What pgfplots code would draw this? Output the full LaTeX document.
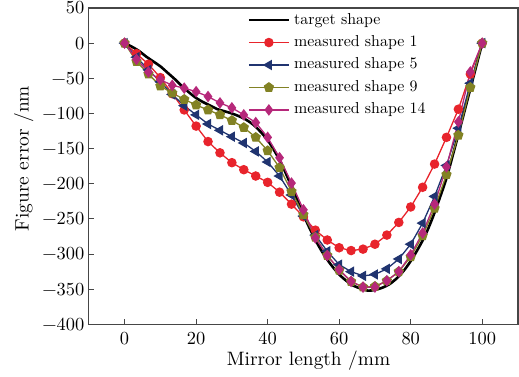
\documentclass[border=0pt]{standalone}
\usepackage{fontspec}
\setmainfont{lmroman10-regular}[Extension=.otf]
\usepackage{pgfplots}
\pgfplotsset{compat=1.18}
\definecolor{cRed}{RGB}{232,36,44}
\definecolor{cBlue}{RGB}{32,52,112}
\definecolor{cOlive}{RGB}{130,130,36}
\definecolor{cMag}{RGB}{182,40,122}
\definecolor{cAxis}{RGB}{70,70,70}
\begin{document}
\begin{tikzpicture}
\begin{axis}[
  name=a,
  scale only axis,
  width=430bp, height=317bp,
  xmin=-10, xmax=110,
  ymin=-400, ymax=50,
  xtick={0,20,...,100},
  ytick={-400,-350,...,50},
  yticklabels={−400,−350,−300,−250,−200,−150,−100,−50,0,50},
  xtick pos=bottom, ytick pos=left,
  tick align=inside,
  major tick length=5bp,
  axis line style={cAxis, line width=1.3bp},
  every tick/.style={cAxis, line width=1.1bp},
  /pgf/number format/assume math mode=true,
  ticklabel style={font=\fontsize{18.5}{20}\selectfont},
  xticklabel style={yshift=-4bp},
  yticklabel style={xshift=-1bp},
  xlabel={Mirror length /mm},
  ylabel={Figure error /nm},
  label style={font=\fontsize{19.5}{21}\selectfont},
  xlabel style={at={(axis description cs:0.512,-0.129)}, anchor=base},
  ylabel style={at={(axis description cs:-0.140,0.524)}, anchor=base},
  legend cell align=left,
  legend style={at={(axis description cs:0.370,0.987)}, anchor=north west, draw=none, fill=none,
    font=\fontsize{16}{18}\selectfont, inner sep=0pt, outer sep=0pt, row sep=6.5bp, column sep=4bp,
    nodes={inner sep=0pt, text height=12bp, text depth=4bp}},
  legend image code/.code={\draw[mark repeat=2,mark phase=2,#1] plot coordinates {(0bp,0bp) (20bp,0bp) (40bp,0bp)};},
]
\addplot[black, line width=2.6bp, smooth, mark=none] coordinates {
(0,0) (2,-5) (4,-11) (6,-19) (8,-26) (10,-33) (12,-42) (14,-51) (16,-61) (18,-70)
(20,-78) (22,-84) (24,-89) (26,-94) (28,-97) (30,-100) (32,-104) (34,-109) (36,-116)
(38,-126) (40,-138) (42,-154) (44,-173) (46,-196) (48,-220) (50,-244) (52,-266)
(54,-286) (56,-303) (58,-317) (60,-329) (62,-338) (64,-345) (66,-349) (68,-352)
(70,-351) (72,-348) (74,-343) (76,-335) (78,-324) (80,-310) (82,-293) (84,-274)
(86,-250) (88,-222) (90,-192) (92,-155) (94,-117) (96,-78) (98,-39) (100,0)};
\addlegendentry{target shape}
\addplot[cRed, line width=1.3bp, mark=*, mark size=4.1bp] coordinates {
(0,0) (3.33,-15) (6.67,-30) (10,-49) (13.33,-72) (16.67,-95) (20,-118) (23.33,-140)
(26.67,-156) (30,-170) (33.33,-180) (36.67,-189) (40,-198) (43.33,-212) (46.67,-229)
(50,-247) (53.33,-266) (56.67,-280) (60,-291) (63.33,-295) (66.67,-293) (70,-286)
(73.33,-273) (76.67,-255) (80,-233) (83.33,-205) (86.67,-172) (90,-134) (93.33,-94)
(96.67,-44) (100,0)};
\addlegendentry{measured shape 1}
\addplot[cBlue, line width=1.3bp, mark=triangle*, mark size=4.8bp, mark options={rotate=90}] coordinates {
(0,0) (3.33,-20) (6.67,-38) (10,-55) (13.33,-73) (16.67,-89) (20,-102) (23.33,-115)
(26.67,-124) (30,-133) (33.33,-142) (36.67,-154) (40,-169) (43.33,-189) (46.67,-216)
(50,-246) (53.33,-273) (56.67,-296) (60,-315) (63.33,-325) (66.67,-331) (70,-329)
(73.33,-321) (76.67,-307) (80,-286) (83.33,-256) (86.67,-218) (90,-174) (93.33,-121)
(96.67,-57) (100,0)};
\addlegendentry{measured shape 5}
\addplot[cOlive, line width=1.3bp, mark=pentagon*, mark size=4.6bp] coordinates {
(0,0) (3.33,-26) (6.67,-44) (10,-61) (13.33,-71) (16.67,-80) (20,-88) (23.33,-95)
(26.67,-102) (30,-110) (33.33,-120) (36.67,-134) (40,-153) (43.33,-177) (46.67,-211)
(50,-244) (53.33,-276) (56.67,-302) (60,-323) (63.33,-339) (66.67,-347) (70,-346)
(73.33,-338) (76.67,-325) (80,-304) (83.33,-274) (86.67,-235) (90,-187) (93.33,-131)
(96.67,-63) (100,0)};
\addlegendentry{measured shape 9}
\addplot[cMag, line width=1.3bp, mark=diamond*, mark size=4.8bp] coordinates {
(0,0) (3.33,-23) (6.67,-41) (10,-52) (13.33,-60) (16.67,-64) (20,-69) (23.33,-76)
(26.67,-85) (30,-92) (33.33,-102) (36.67,-113) (40,-134) (43.33,-163) (46.67,-199)
(50,-237) (53.33,-277) (56.67,-302) (60,-322) (63.33,-339) (66.67,-347) (70,-347)
(73.33,-338) (76.67,-325) (80,-301) (83.33,-270) (86.67,-229) (90,-176) (93.33,-112)
(96.67,-41) (100,0)};
\addlegendentry{measured shape 14}
\end{axis}
\pgfresetboundingbox
\path[use as bounding box] ([shift={(-89bp,-52bp)}]a.south west) rectangle ([shift={(1bp,8bp)}]a.north east);
\end{tikzpicture}
\end{document}
